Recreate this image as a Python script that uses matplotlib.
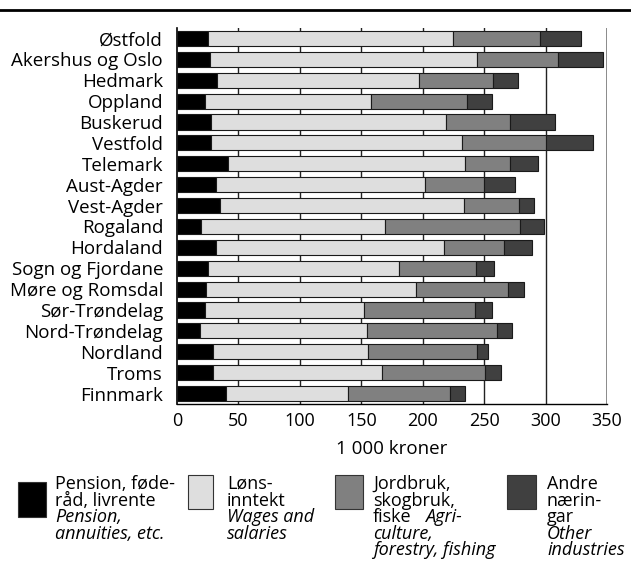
import matplotlib
matplotlib.use('Agg')
import matplotlib.pyplot as plt
from matplotlib.patches import Rectangle
from matplotlib.lines import Line2D

# fylker, ovenfra og ned
fylker = ['Østfold', 'Akershus og Oslo', 'Hedmark', 'Oppland', 'Buskerud',
          'Vestfold', 'Telemark', 'Aust-Agder', 'Vest-Agder', 'Rogaland',
          'Hordaland', 'Sogn og Fjordane', 'Møre og Romsdal', 'Sør-Trøndelag',
          'Nord-Trøndelag', 'Nordland', 'Troms', 'Finnmark']

# 1 000 kroner
pensjon = [25.5, 26.6, 32.6, 22.5, 27.4, 27.4, 41.8, 31.5, 34.7, 19.5,
           31.5, 25.5, 23.3, 22.5, 18.4, 29.3, 29.3, 39.6]
lonn = [199.0, 217.6, 164.7, 135.7, 191.8, 204.8, 192.6, 170.6, 198.6, 150.1,
        185.8, 154.9, 171.2, 129.7, 136.0, 126.2, 137.8, 99.9]
jordbruk = [71.0, 66.2, 60.2, 78.1, 52.1, 68.4, 36.9, 48.0, 45.1, 109.9,
            49.1, 63.0, 74.9, 90.1, 106.1, 88.7, 83.3, 83.0]
andre = [33.0, 36.3, 20.1, 20.4, 36.4, 38.3, 22.3, 25.3, 12.2, 19.2,
         22.3, 14.9, 13.0, 14.1, 12.2, 9.2, 13.0, 12.2]

farger = ['#000000', '#dedede', '#808080', '#404040']
xticks = [0, 50, 100, 150, 200, 250, 300, 350]

plt.rcParams['font.family'] = ['Open Sans', 'DejaVu Sans']

fig = plt.figure(figsize=(6.31, 5.63), dpi=100)
ax = fig.add_axes([177/631, 1-404/563, 430/631, 376/563])

y = list(range(len(fylker)))
venstre = [0] * len(fylker)
for serie, farge in zip([pensjon, lonn, jordbruk, andre], farger):
    ax.barh(y, serie, left=venstre, height=0.72, color=farge,
            edgecolor='#1a1a1a', linewidth=0.8, zorder=3)
    venstre = [a + b for a, b in zip(venstre, serie)]

ax.set_ylim(len(fylker) - 0.5, -0.5)
ax.set_xlim(0, 350)
ax.set_yticks(y)
ax.set_yticklabels(fylker, fontsize=13.5)
ax.set_xticks(xticks)
ax.set_xticklabels([str(t) for t in xticks], fontsize=13)
ax.tick_params(axis='y', length=0, pad=10)
ax.tick_params(axis='x', length=0, pad=6)
ax.set_xlabel('1 000 kroner', fontsize=13.5, labelpad=7)

for t in xticks[1:-1]:
    ax.axvline(t, color='#222222', linewidth=1, zorder=1)
ax.axvline(350, color='#777777', linewidth=1.2, zorder=1)

for s in ['top', 'right']:
    ax.spines[s].set_visible(False)
ax.spines['left'].set_linewidth(1.2)
ax.spines['bottom'].set_linewidth(1.0)

# linje øverst
fig.add_artist(Line2D([0, 1], [1-10/563, 1-10/563], color='black', linewidth=2))

# tegnforklaring
def px(x, yy):
    return x / 631, 1 - yy / 563

bokser = [(18, 482, 28, 35), (188, 475, 25, 34), (335, 475, 28, 34), (507, 475, 29, 34)]
for (bx, by, bw, bh), farge in zip(bokser, farger):
    x0, y0 = px(bx, by + bh)
    fig.add_artist(Rectangle((x0, y0), bw/631, bh/563, facecolor=farge,
                             edgecolor='#333333', linewidth=0.8,
                             transform=fig.transFigure))

lh = 16.6
y0 = 489
fsl = 13
tekster = [
    (55, [('Pension, føde-', 'normal'), ('råd, livrente', 'normal'),
          ('Pension,', 'italic'), ('annuities, etc.', 'italic')]),
    (227, [('Løns-', 'normal'), ('inntekt', 'normal'),
           ('Wages and', 'italic'), ('salaries', 'italic')]),
    (373, [('Jordbruk,', 'normal'), ('skogbruk,', 'normal'),
           ('fiske', 'normal'), ('culture,', 'italic'),
           ('forestry, fishing', 'italic')]),
    (547, [('Andre', 'normal'), ('nærin-', 'normal'), ('gar', 'normal'),
           ('Other', 'italic'), ('industries', 'italic')]),
]
for tx, linjer in tekster:
    for i, (t, stil) in enumerate(linjer):
        fig.text(*px(tx, y0 + i * lh), t, fontsize=fsl, style=stil,
                 va='baseline', ha='left')
fig.text(*px(425, y0 + 2 * lh), 'Agri-', fontsize=fsl, style='italic',
         va='baseline', ha='left')

fig.savefig('out.png', dpi=100)
